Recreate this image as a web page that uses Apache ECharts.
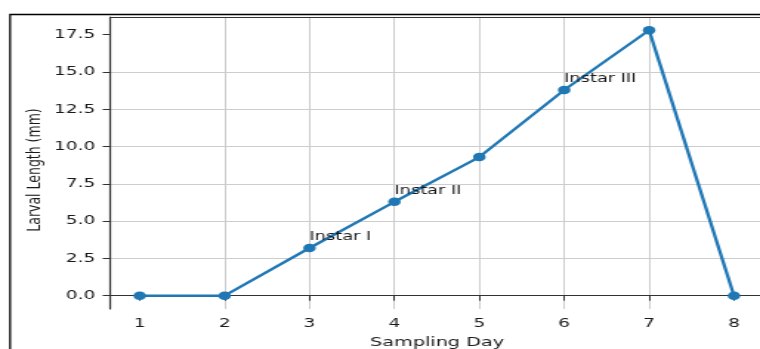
<!DOCTYPE html>
<html>
<head>
<meta charset="utf-8">
<script src="https://cdn.jsdelivr.net/npm/echarts@6/dist/echarts.min.js"></script>
<style>
  html, body { margin: 0; padding: 0; background: #fff; }
  #wrap { width: 760px; height: 349px; overflow: hidden; }
  /* the reference is a horizontally stretched image, so stretch the chart the same way */
  #chart { width: 514px; height: 349px; transform: scaleX(1.4786); transform-origin: 0 0; }
</style>
</head>
<body>
<div id="wrap"><div id="chart"></div></div>
<script>
const days = [1, 2, 3, 4, 5, 6, 7, 8];
const larvalLength = [0, 0, 3.2, 6.3, 9.3, 13.8, 17.8, 0];
const instarLabels = ['', '', 'Instar I', 'Instar II', '', 'Instar III', '', ''];
const xTicks = [1, 2, 3, 4, 5, 6, 7, 8];
const yTicks = [0, 2.5, 5, 7.5, 10, 12.5, 15, 17.5];

const font = 'DejaVu Sans';
const chart = echarts.init(document.getElementById('chart'), null, { renderer: 'canvas' });

const option = {
  animation: false,
  grid: {
    left: 74.4, top: 17, width: 442.1, height: 292,
    outerBoundsMode: 'none'
  },
  xAxis: [{
    type: 'value',
    min: 0.65,
    max: 8.35,
    axisLine: { show: true, lineStyle: { color: '#333', width: 1.2 } },
    axisTick: { show: true, customValues: xTicks, length: 5, lineStyle: { color: '#333' } },
    axisLabel: { customValues: xTicks, color: '#1a1a1a', fontSize: 12.5, fontFamily: font, margin: 8 },
    splitLine: { show: true, showMinLine: false, showMaxLine: false, lineStyle: { color: '#cdcdcd', width: 1 } }
  }, {
    // top spine only
    type: 'value',
    position: 'top',
    min: 0.65,
    max: 8.35,
    axisLine: { show: true, lineStyle: { color: '#333', width: 1 } },
    axisTick: { show: false },
    axisLabel: { show: false },
    splitLine: { show: false }
  }],
  yAxis: {
    type: 'value',
    min: -0.89,
    max: 18.69,
    axisLine: { show: true, lineStyle: { color: '#333', width: 1.2 } },
    axisTick: { show: true, customValues: yTicks, length: 5, lineStyle: { color: '#333' } },
    axisLabel: {
      customValues: yTicks, color: '#1a1a1a', fontSize: 12.5, fontFamily: font, margin: 10,
      formatter: (v) => v.toFixed(1)
    },
    splitLine: { show: true, showMinLine: false, showMaxLine: false, lineStyle: { color: '#cdcdcd', width: 1 } }
  },
  graphic: [
    {
      type: 'rect', silent: true,
      shape: { x: 6.8, y: 14.5, width: 700, height: 400 },
      style: { fill: 'none', stroke: '#000', lineWidth: 1.3 }
    },
    {
      type: 'text', x: 23.7, y: 170, rotation: Math.PI / 2,
      style: { text: 'Larval Length (mm)', font: '12.5px ' + font, fill: '#1a1a1a', align: 'center', verticalAlign: 'middle' }
    },
    {
      type: 'text', x: 295.6, y: 343,
      style: { text: 'Sampling Day', font: '13px ' + font, fill: '#1a1a1a', align: 'center', verticalAlign: 'middle' }
    }
  ],
  series: [{
    type: 'line',
    data: days.map((d, i) => [d, larvalLength[i]]),
    symbol: 'circle',
    symbolSize: 8.5,
    color: '#1f77b4',
    lineStyle: { width: 2.3, color: '#1f77b4' },
    itemStyle: { color: '#1f77b4' },
    label: {
      show: true,
      position: [4.25, -7],
      align: 'left',
      verticalAlign: 'middle',
      color: '#1a1a1a',
      fontSize: 12,
      fontFamily: font,
      formatter: (p) => instarLabels[p.dataIndex]
    }
  }]
};

chart.setOption(option);
</script>
</body>
</html>
